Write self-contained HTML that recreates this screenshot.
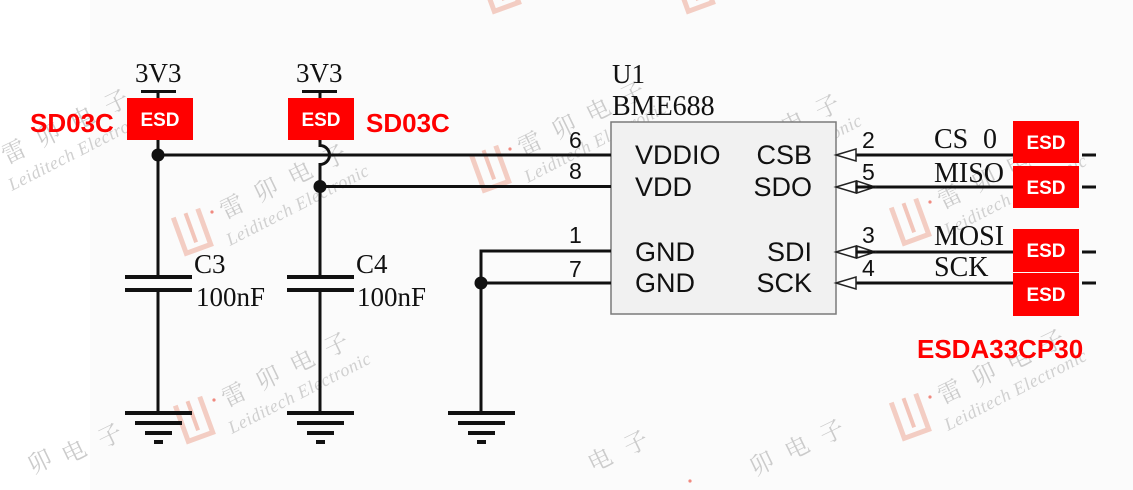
<!DOCTYPE html>
<html>
<head>
<meta charset="utf-8">
<style>
html,body{margin:0;padding:0;background:#fff;width:1133px;height:490px;overflow:hidden;}
svg{display:block;overflow:hidden;}
.wm{fill:#cbcbcb;font-family:"Noto Serif CJK SC","Liberation Serif",serif;font-size:24px;letter-spacing:14px;}
.wc{fill:#cbcbcb;font-family:"Noto Serif CJK SC","Liberation Serif",serif;font-size:24px;}
.wl{fill:#d0d0d0;font-family:"Liberation Serif",serif;font-style:italic;font-size:18px;letter-spacing:0.6px;}
.sans{font-family:"Liberation Sans",Arial,sans-serif;}
.serif{font-family:"Liberation Serif","Times New Roman",serif;}
</style>
</head>
<body>
<svg width="1133" height="490" viewBox="0 0 1133 490" xmlns="http://www.w3.org/2000/svg">
<rect x="0" y="0" width="1133" height="490" fill="#fbfbfb"/>
<rect x="0" y="0" width="90" height="490" fill="#ffffff"/>

<!-- watermarks -->
<g transform="translate(888,395)">
  <g transform="translate(22,21) rotate(-20)" opacity="0.8"><path d="M-13,-19 L-13,19 L13,19 L13,-19" fill="none" stroke="#f2c2b6" stroke-width="5"/><line x1="0" y1="-19" x2="0" y2="12" stroke="#f0b8aa" stroke-width="4"/></g>
  <circle cx="42" cy="2" r="1.6" fill="#f08a80"/>
  <g transform="translate(62,-3) rotate(-26)"><text class="wm" x="-12" y="8">雷卯电子</text></g>
  <g transform="translate(60,36) rotate(-27)"><text class="wl" x="0" y="0">Leiditech Electronic</text></g>
</g>
<g transform="translate(888,200)">
  <g transform="translate(22,21) rotate(-20)" opacity="0.8"><path d="M-13,-19 L-13,19 L13,19 L13,-19" fill="none" stroke="#f2c2b6" stroke-width="5"/><line x1="0" y1="-19" x2="0" y2="12" stroke="#f0b8aa" stroke-width="4"/></g>
  <circle cx="42" cy="2" r="1.6" fill="#f08a80"/>
  <g transform="translate(62,-3) rotate(-26)"><text class="wm" x="-12" y="8">雷卯电子</text></g>
  <g transform="translate(60,36) rotate(-27)"><text class="wl" x="0" y="0">Leiditech Electronic</text></g>
</g>
<g transform="translate(663,160)">
  <g transform="translate(22,21) rotate(-20)" opacity="0.8"><path d="M-13,-19 L-13,19 L13,19 L13,-19" fill="none" stroke="#f2c2b6" stroke-width="5"/><line x1="0" y1="-19" x2="0" y2="12" stroke="#f0b8aa" stroke-width="4"/></g>
  <circle cx="42" cy="2" r="1.6" fill="#f08a80"/>
  <g transform="translate(62,-3) rotate(-26)"><text class="wm" x="-12" y="8">雷卯电子</text></g>
  <g transform="translate(60,36) rotate(-27)"><text class="wl" x="0" y="0">Leiditech Electronic</text></g>
</g>
<g transform="translate(468,147)">
  <g transform="translate(22,21) rotate(-20)" opacity="0.8"><path d="M-13,-19 L-13,19 L13,19 L13,-19" fill="none" stroke="#f2c2b6" stroke-width="5"/><line x1="0" y1="-19" x2="0" y2="12" stroke="#f0b8aa" stroke-width="4"/></g>
  <circle cx="42" cy="2" r="1.6" fill="#f08a80"/>
  <g transform="translate(62,-3) rotate(-26)"><text class="wm" x="-12" y="8">雷卯电子</text></g>
  <g transform="translate(60,36) rotate(-27)"><text class="wl" x="0" y="0">Leiditech Electronic</text></g>
</g>
<g transform="translate(170,210)">
  <g transform="translate(22,21) rotate(-20)" opacity="0.8"><path d="M-13,-19 L-13,19 L13,19 L13,-19" fill="none" stroke="#f2c2b6" stroke-width="5"/><line x1="0" y1="-19" x2="0" y2="12" stroke="#f0b8aa" stroke-width="4"/></g>
  <circle cx="42" cy="2" r="1.6" fill="#f08a80"/>
  <g transform="translate(62,-3) rotate(-26)"><text class="wm" x="-12" y="8">雷卯电子</text></g>
  <g transform="translate(60,36) rotate(-27)"><text class="wl" x="0" y="0">Leiditech Electronic</text></g>
</g>
<g transform="translate(172,398)">
  <g transform="translate(22,21) rotate(-20)" opacity="0.8"><path d="M-13,-19 L-13,19 L13,19 L13,-19" fill="none" stroke="#f2c2b6" stroke-width="5"/><line x1="0" y1="-19" x2="0" y2="12" stroke="#f0b8aa" stroke-width="4"/></g>
  <circle cx="42" cy="2" r="1.6" fill="#f08a80"/>
  <g transform="translate(62,-3) rotate(-26)"><text class="wm" x="-12" y="8">雷卯电子</text></g>
  <g transform="translate(60,36) rotate(-27)"><text class="wl" x="0" y="0">Leiditech Electronic</text></g>
</g>
<g transform="translate(-48,155)">
  <g transform="translate(62,-3) rotate(-26)"><text class="wm" x="-12" y="8">雷卯电子</text></g>
  <g transform="translate(60,36) rotate(-27)"><text class="wl" x="0" y="0">Leiditech Electronic</text></g>
</g>
<g transform="translate(478,-32)">
  <g transform="translate(22,21) rotate(-20)" opacity="0.8"><path d="M-13,-19 L-13,19 L13,19 L13,-19" fill="none" stroke="#f2c2b6" stroke-width="5"/><line x1="0" y1="-19" x2="0" y2="12" stroke="#f0b8aa" stroke-width="4"/></g>
</g>
<g transform="translate(672,-32)">
  <g transform="translate(22,21) rotate(-20)" opacity="0.8"><path d="M-13,-19 L-13,19 L13,19 L13,-19" fill="none" stroke="#f2c2b6" stroke-width="5"/><line x1="0" y1="-19" x2="0" y2="12" stroke="#f0b8aa" stroke-width="4"/></g>
</g>

<!-- partial bottom-edge watermark characters (kept inside frame) -->
<g transform="translate(40,462) rotate(-26)"><text class="wc" x="-12" y="8">卯</text></g>
<g transform="translate(74,452) rotate(-26)"><text class="wc" x="-12" y="8">电</text></g>
<g transform="translate(110,436) rotate(-26)"><text class="wc" x="-12" y="8">子</text></g>
<g transform="translate(600,460) rotate(-26)"><text class="wc" x="-12" y="8">电</text></g>
<g transform="translate(636,443) rotate(-26)"><text class="wc" x="-12" y="8">子</text></g>
<g transform="translate(762,464) rotate(-26)"><text class="wc" x="-12" y="8">卯</text></g>
<g transform="translate(797,448) rotate(-26)"><text class="wc" x="-12" y="8">电</text></g>
<g transform="translate(832,432) rotate(-26)"><text class="wc" x="-12" y="8">子</text></g>
<circle cx="690" cy="481" r="1.6" fill="#f08a80"/>

<!-- Chip -->
<rect x="611" y="122" width="225" height="192" fill="#f1f1f1" stroke="#7a7a7a" stroke-width="1.5"/>
<text class="serif" x="612" y="83" font-size="27" fill="#111">U1</text>
<text class="serif" x="612" y="115" font-size="28" fill="#111">BME688</text>

<g class="sans" font-size="27" fill="#111">
  <text x="635" y="164">VDDIO</text>
  <text x="635" y="196">VDD</text>
  <text x="635" y="261">GND</text>
  <text x="635" y="292">GND</text>
  <text x="812" y="164" text-anchor="end">CSB</text>
  <text x="812" y="196" text-anchor="end">SDO</text>
  <text x="812" y="261" text-anchor="end">SDI</text>
  <text x="812" y="292" text-anchor="end">SCK</text>
</g>

<g class="sans" font-size="23" fill="#111">
  <text x="569" y="148">6</text>
  <text x="569" y="179">8</text>
  <text x="569" y="243">1</text>
  <text x="569" y="277">7</text>
  <text x="862" y="148">2</text>
  <text x="862" y="180">5</text>
  <text x="862" y="243">3</text>
  <text x="862" y="276">4</text>
</g>

<!-- wires -->
<g stroke="#111" stroke-width="3" fill="none">
  <line x1="141" y1="91.5" x2="176" y2="91.5"/>
  <line x1="158" y1="91" x2="158" y2="98"/>
  <line x1="158" y1="140" x2="158" y2="277"/>
  <line x1="158" y1="290" x2="158" y2="413"/>
  <line x1="158" y1="155" x2="611" y2="155"/>
  <line x1="302" y1="91.5" x2="337" y2="91.5"/>
  <line x1="320" y1="91" x2="320" y2="98"/>
  <path d="M320 140 L320 145.5 A9.5 9.5 0 0 1 320 164.5 L320 277"/>
  <line x1="320" y1="290" x2="320" y2="413"/>
  <line x1="320" y1="186.5" x2="611" y2="186.5"/>
  <path d="M611 251 H481 V413"/>
  <line x1="481" y1="283" x2="611" y2="283"/>
  <line x1="856" y1="155" x2="1013" y2="155"/>
  <line x1="856" y1="187" x2="1013" y2="187"/>
  <line x1="856" y1="252" x2="1013" y2="252"/>
  <line x1="856" y1="283" x2="1013" y2="283"/>
  <line x1="1082" y1="155" x2="1096" y2="155"/>
  <line x1="1082" y1="187" x2="1096" y2="187"/>
  <line x1="1082" y1="252" x2="1096" y2="252"/>
  <line x1="1082" y1="283" x2="1096" y2="283"/>
</g>

<!-- capacitor plates -->
<g fill="#111">
  <rect x="125" y="275" width="67" height="4"/>
  <rect x="125" y="288" width="67" height="4"/>
  <rect x="287" y="275" width="67" height="4"/>
  <rect x="287" y="288" width="67" height="4"/>
</g>

<!-- grounds -->
<g fill="#111">
  <rect x="125" y="411" width="67" height="4"/>
  <rect x="135" y="421" width="47" height="4"/>
  <rect x="145" y="431" width="27" height="4"/>
  <rect x="154" y="440" width="9" height="4"/>

  <rect x="287" y="411" width="67" height="4"/>
  <rect x="297" y="421" width="47" height="4"/>
  <rect x="307" y="431" width="27" height="4"/>
  <rect x="316" y="440" width="9" height="4"/>

  <rect x="448" y="411" width="67" height="4"/>
  <rect x="458" y="421" width="47" height="4"/>
  <rect x="468" y="431" width="27" height="4"/>
  <rect x="477" y="440" width="9" height="4"/>
</g>

<!-- junction dots -->
<g fill="#111">
  <circle cx="158" cy="155" r="6.5"/>
  <circle cx="320" cy="186.5" r="6.5"/>
  <circle cx="481" cy="283" r="6.5"/>
</g>

<!-- port arrows -->
<g fill="#fff" stroke="#222" stroke-width="1.5">
  <polygon points="836,155 856,149 856,161"/>
  <polygon points="836,187 856,181 856,193"/>
  <polygon points="857,181 857,193 875,187"/>
  <polygon points="836,252 856,246 856,258"/>
  <polygon points="857,246 857,258 875,252"/>
  <polygon points="836,283 856,277 856,289"/>
</g>
<g stroke="#111" stroke-width="3">
  <line x1="856" y1="187" x2="875" y2="187"/>
  <line x1="856" y1="252" x2="875" y2="252"/>
</g>

<!-- labels -->
<g class="serif" fill="#111">
  <text x="135" y="82" font-size="27">3V3</text>
  <text x="296" y="82" font-size="27">3V3</text>
  <text x="194" y="273" font-size="27">C3</text>
  <text x="196" y="306" font-size="27">100nF</text>
  <text x="356" y="273" font-size="27">C4</text>
  <text x="357" y="306" font-size="27">100nF</text>
  <text x="934" y="148" font-size="28">CS</text>
  <text x="983" y="148" font-size="28">0</text>
  <text x="934" y="182" font-size="28">MISO</text>
  <text x="934" y="245" font-size="28">MOSI</text>
  <text x="934" y="276" font-size="28">SCK</text>
</g>

<!-- ESD boxes -->
<g fill="#ff0000">
  <rect x="127" y="98" width="66" height="42"/>
  <rect x="288" y="98" width="66" height="42"/>
  <rect x="1013" y="121" width="66" height="42"/>
  <rect x="1013" y="166" width="66" height="42"/>
  <rect x="1013" y="229" width="66" height="43"/>
  <rect x="1013" y="273" width="66" height="43"/>
</g>
<g class="sans" fill="#fff" font-size="19" font-weight="bold" text-anchor="middle">
  <text x="160" y="126">ESD</text>
  <text x="321" y="126">ESD</text>
  <text x="1046" y="149">ESD</text>
  <text x="1046" y="194">ESD</text>
  <text x="1046" y="257">ESD</text>
  <text x="1046" y="301">ESD</text>
</g>

<g class="sans" fill="#ff0000" font-weight="bold" font-size="26">
  <text x="30" y="132">SD03C</text>
  <text x="366" y="132">SD03C</text>
  <text x="917" y="358">ESDA33CP30</text>
</g>
</svg>
</body>
</html>
